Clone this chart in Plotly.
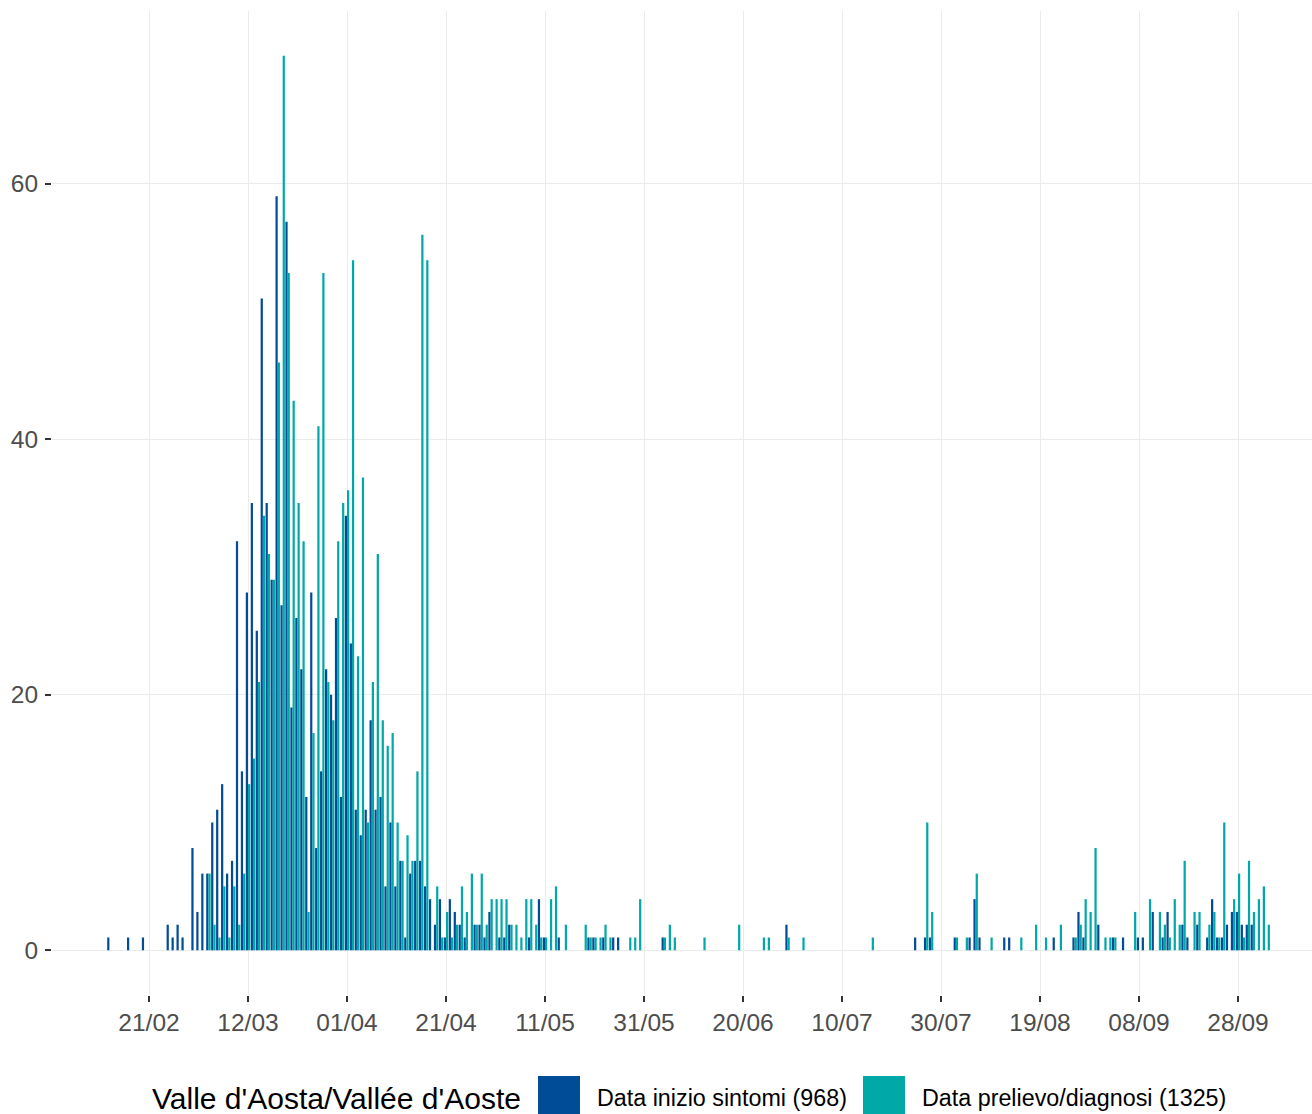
import plotly.graph_objects as go
import pandas as pd

# ---- data ----
sintomi_dates = [
    "2020-02-13", "2020-02-17", "2020-02-20", "2020-02-25", "2020-02-26", "2020-02-27", "2020-02-28",
    "2020-03-01", "2020-03-02", "2020-03-03", "2020-03-04", "2020-03-05", "2020-03-06", "2020-03-07",
    "2020-03-08", "2020-03-09", "2020-03-10", "2020-03-11", "2020-03-12", "2020-03-13", "2020-03-14",
    "2020-03-15", "2020-03-16", "2020-03-17", "2020-03-18", "2020-03-19", "2020-03-20", "2020-03-21",
    "2020-03-22", "2020-03-23", "2020-03-24", "2020-03-25", "2020-03-26", "2020-03-27", "2020-03-28",
    "2020-03-29", "2020-03-30", "2020-03-31", "2020-04-01", "2020-04-02", "2020-04-03", "2020-04-04",
    "2020-04-05", "2020-04-06", "2020-04-07", "2020-04-08", "2020-04-09", "2020-04-10", "2020-04-11",
    "2020-04-12", "2020-04-13", "2020-04-14", "2020-04-15", "2020-04-16", "2020-04-17", "2020-04-18",
    "2020-04-19", "2020-04-20", "2020-04-21", "2020-04-22", "2020-04-23", "2020-04-24", "2020-04-25",
    "2020-04-27", "2020-04-28", "2020-04-29", "2020-04-30", "2020-05-02", "2020-05-03", "2020-05-04",
    "2020-05-08", "2020-05-10", "2020-05-11", "2020-05-14", "2020-05-20", "2020-05-21", "2020-05-23",
    "2020-05-25", "2020-05-26", "2020-06-04", "2020-06-29", "2020-07-25", "2020-07-27", "2020-07-28",
    "2020-08-02", "2020-08-05", "2020-08-06", "2020-08-07", "2020-08-12", "2020-08-13", "2020-08-22",
    "2020-08-26", "2020-08-27", "2020-08-28", "2020-08-31", "2020-09-03", "2020-09-05", "2020-09-08",
    "2020-09-09", "2020-09-11", "2020-09-13", "2020-09-14", "2020-09-17", "2020-09-18", "2020-09-20",
    "2020-09-22", "2020-09-23", "2020-09-24", "2020-09-25", "2020-09-26", "2020-09-27", "2020-09-28",
    "2020-09-29", "2020-09-30", "2020-10-01",
]
sintomi_values = [
    1, 1, 1, 2, 1, 2, 1,
    8, 3, 6, 6, 10, 11, 13,
    6, 7, 32, 14, 28, 35, 25,
    51, 35, 29, 59, 27, 57, 19,
    26, 22, 12, 28, 8, 14, 22,
    20, 26, 12, 34, 24, 11, 9,
    11, 18, 11, 12, 5, 10, 5,
    7, 1, 6, 7, 7, 5, 4,
    2, 4, 1, 4, 3, 2, 1,
    2, 2, 1, 3, 1, 1, 2,
    1, 4, 1, 1, 1, 1, 1,
    1, 1, 1, 2, 1, 1, 1,
    1, 1, 4, 1, 1, 1, 1,
    1, 3, 1, 2, 1, 1, 1,
    1, 3, 1, 3, 2, 1, 2,
    1, 4, 1, 1, 2, 3, 3,
    2, 2, 2,
]

diagnosi_dates = [
    "2020-03-04", "2020-03-05", "2020-03-06", "2020-03-07", "2020-03-08", "2020-03-09", "2020-03-10",
    "2020-03-11", "2020-03-12", "2020-03-13", "2020-03-14", "2020-03-15", "2020-03-16", "2020-03-17",
    "2020-03-18", "2020-03-19", "2020-03-20", "2020-03-21", "2020-03-22", "2020-03-23", "2020-03-24",
    "2020-03-25", "2020-03-26", "2020-03-27", "2020-03-28", "2020-03-29", "2020-03-30", "2020-03-31",
    "2020-04-01", "2020-04-02", "2020-04-03", "2020-04-04", "2020-04-05", "2020-04-06", "2020-04-07",
    "2020-04-08", "2020-04-09", "2020-04-10", "2020-04-11", "2020-04-12", "2020-04-13", "2020-04-14",
    "2020-04-15", "2020-04-16", "2020-04-17", "2020-04-19", "2020-04-20", "2020-04-21", "2020-04-22",
    "2020-04-23", "2020-04-24", "2020-04-25", "2020-04-26", "2020-04-27", "2020-04-28", "2020-04-29",
    "2020-04-30", "2020-05-01", "2020-05-02", "2020-05-03", "2020-05-04", "2020-05-05", "2020-05-06",
    "2020-05-07", "2020-05-08", "2020-05-09", "2020-05-10", "2020-05-11", "2020-05-12", "2020-05-13",
    "2020-05-15", "2020-05-19", "2020-05-20", "2020-05-21", "2020-05-22", "2020-05-23", "2020-05-24",
    "2020-05-28", "2020-05-29", "2020-05-30", "2020-06-04", "2020-06-05", "2020-06-06", "2020-06-12",
    "2020-06-19", "2020-06-24", "2020-06-25", "2020-06-29", "2020-07-02", "2020-07-16", "2020-07-27",
    "2020-07-28", "2020-08-02", "2020-08-04", "2020-08-06", "2020-08-09", "2020-08-15", "2020-08-18",
    "2020-08-20", "2020-08-23", "2020-08-26", "2020-08-27", "2020-08-28", "2020-08-29", "2020-08-30",
    "2020-09-01", "2020-09-02", "2020-09-03", "2020-09-07", "2020-09-10", "2020-09-12", "2020-09-13",
    "2020-09-14", "2020-09-15", "2020-09-16", "2020-09-17", "2020-09-19", "2020-09-20", "2020-09-22",
    "2020-09-23", "2020-09-24", "2020-09-25", "2020-09-27", "2020-09-28", "2020-09-29", "2020-09-30",
    "2020-10-01", "2020-10-02", "2020-10-03", "2020-10-04",
]
diagnosi_values = [
    6, 2, 1, 5, 1, 5, 2,
    6, 13, 15, 21, 34, 31, 29,
    46, 70, 53, 43, 35, 32, 3,
    17, 41, 53, 21, 18, 32, 35,
    36, 54, 23, 37, 10, 21, 31,
    18, 16, 17, 10, 7, 9, 7,
    14, 56, 54, 5, 1, 3, 1,
    2, 5, 3, 6, 2, 6, 2,
    4, 4, 4, 4, 2, 2, 1,
    4, 4, 2, 1, 1, 4, 5,
    2, 2, 1, 1, 1, 2, 1,
    1, 1, 4, 1, 2, 1, 1,
    2, 1, 1, 1, 1, 1, 10,
    3, 1, 1, 6, 1, 1, 2,
    1, 2, 1, 2, 4, 3, 8,
    1, 1, 1, 3, 4, 3, 2,
    1, 4, 2, 7, 3, 3, 2,
    3, 1, 10, 4, 6, 1, 7,
    3, 4, 5, 2,
]

series_names = ["Data inizio sintomi (968)", "Data prelievo/diagnosi (1325)"]
legend_title = "Valle d'Aosta/Vallée d'Aoste"
y_ticks = [0, 20, 40, 60]
x_tick_start = "2020-02-21"

BLUE = "#004C97"
TEAL = "#00A8A8"
FONT = "Liberation Sans, Arial, sans-serif"

fig = go.Figure()
fig.add_trace(go.Bar(x=pd.to_datetime(sintomi_dates), y=sintomi_values, name=series_names[0],
                     marker=dict(color=BLUE, line=dict(width=0)), showlegend=False))
fig.add_trace(go.Bar(x=pd.to_datetime(diagnosi_dates), y=diagnosi_values, name=series_names[1],
                     marker=dict(color=TEAL, line=dict(width=0)), showlegend=False))

W, H = 1312, 1114
L, R, T, B = 52, 0, 11, 119
base = pd.Timestamp(x_tick_start)
x0 = base + pd.Timedelta(days=-19.6)
x1 = base + pd.Timedelta(days=234.95)

fig.update_layout(
    width=W, height=H,
    margin=dict(l=L, r=R, t=T, b=B, autoexpand=False),
    paper_bgcolor="white", plot_bgcolor="white",
    barmode="group", bargap=0.1, bargroupgap=0,
    font=dict(family=FONT),
    showlegend=False,
    xaxis=dict(
        type="date", range=[x0, x1],
        tick0=x_tick_start, dtick=20 * 24 * 3600 * 1000, tickformat="%d/%m",
        ticks="outside", ticklen=6, tickwidth=1.5, tickcolor="#333333",
        tickfont=dict(size=24.5, color="#4D4D4D", family=FONT),
        showgrid=True, gridcolor="#EBEBEB", gridwidth=1,
        showline=False, zeroline=False, automargin=False,
    ),
    yaxis=dict(
        range=[-3.5, 73.5], tickvals=y_ticks,
        ticks="outside", ticklen=6, tickwidth=1.5, tickcolor="#333333",
        tickfont=dict(size=24.5, color="#4D4D4D", family=FONT),
        ticklabelstandoff=2,
        showgrid=True, gridcolor="#EBEBEB", gridwidth=1,
        showline=False, zeroline=False, automargin=False,
    ),
)

# custom legend below the plot (large swatches as in the reference)
plot_w = W - L - R
plot_h = H - T - B


def px_x(p):
    return (p - L) / plot_w


def px_y(p):
    return (H - B - p) / plot_h


text_y = px_y(1098)
fig.add_annotation(x=px_x(150), y=text_y, xref="paper", yref="paper", text=legend_title,
                   showarrow=False, xanchor="left", yanchor="middle",
                   font=dict(size=30, color="black", family=FONT))
for (sx, tx, col, lab) in [(538, 597, BLUE, series_names[0]), (863, 922, TEAL, series_names[1])]:
    fig.add_shape(type="rect", xref="paper", yref="paper",
                  x0=px_x(sx), x1=px_x(sx + 42), y0=px_y(1076), y1=px_y(1125),
                  fillcolor=col, line=dict(width=0), layer="above")
    fig.add_annotation(x=px_x(tx - 2), y=text_y, xref="paper", yref="paper", text=lab,
                       showarrow=False, xanchor="left", yanchor="middle",
                       font=dict(size=23.3, color="black", family=FONT))

fig.write_html("out.html", config={"displayModeBar": False},
               post_script="document.body.style.margin='0';document.body.style.overflow='hidden';")
